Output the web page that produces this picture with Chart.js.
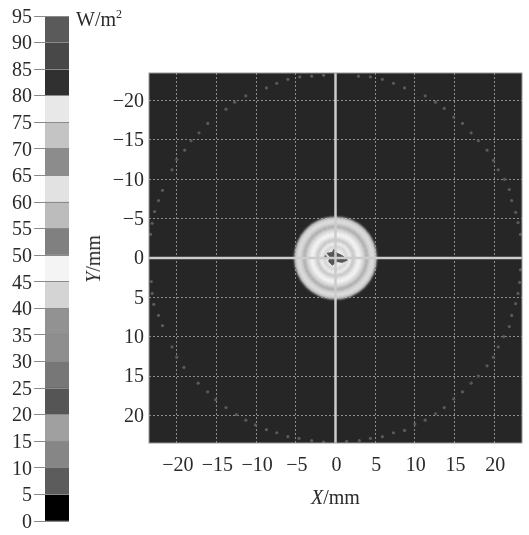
<!DOCTYPE html>
<html>
<head>
<meta charset="utf-8">
<script src="https://cdn.jsdelivr.net/npm/chart.js@4/dist/chart.umd.min.js"></script>
<style>
  html, body { margin: 0; padding: 0; background: #fff; }
  #page { position: relative; width: 529px; height: 535px; overflow: hidden; font-family: "Liberation Serif", serif; color: #2a2a2a; filter: blur(0.5px); }
  canvas { position: absolute; }
  .label { position: absolute; font-size: 20px; white-space: nowrap; line-height: 22px; }
  .label sup { font-size: 12px; line-height: 0; }
</style>
</head>
<body>
<div id="page">
  <canvas id="main" width="449" height="535" style="left:80px;top:0"></canvas>
  <canvas id="bar" width="80" height="535" style="left:0;top:0"></canvas>
  <div class="label" style="left:76px;top:8px">W/m<sup>2</sup></div>
  <div class="label" style="left:311px;top:486px"><i>X</i>/mm</div>
  <div class="label" style="left:93px;top:259px;transform:translate(-50%,-50%) rotate(-90deg)"><i>Y</i>/mm</div>
</div>
<script>
// colour bar bands, bottom to top, 5 W/m2 each
const bandValues = [5, 5, 5, 5, 5, 5, 5, 5, 5, 5, 5, 5, 5, 5, 5, 5, 5, 5, 5];
const bandColors = ["#000000", "#5c5c5c", "#868686", "#a0a0a0", "#555555", "#777777", "#8e8e8e", "#929292",
  "#d4d4d4", "#f4f4f4", "#808080", "#bcbcbc", "#e2e2e2", "#8c8c8c", "#c4c4c4", "#e8e8e8", "#303030", "#484848", "#5a5a5a"];

// faint ring of dots (mm)
const dotsX = [-23.3, -23.1, -22.8, -22.3, -21.8, -20.6, -20.0, -19.0, -18.2, -17.2, -16.1, -13.8, -12.7, -11.3, -8.7, -7.4, -6.0, -4.5, -3.0, -1.5,
  2.9, 4.4, 5.9, 7.3, 8.7, 11.3, 12.6, 13.7, 14.9, 16.0, 17.1, 18.0, 19.1, 19.9, 20.5, 21.3, 21.9, 22.2, 22.7, 23.0, 23.3,
  23.3, 23.2, 23.0, 22.7, 22.2, 21.9, 21.2, 20.5, 19.9, 19.1, 18.0, 17.1, 16.0, 14.9, 13.7, 12.6, 11.3, 10.0, 8.7, 7.3, 5.9, 4.4, 3.0, 1.4,
  -23.2, -23.1, -22.9, -22.3, -21.8, -20.6, -20.0, -19.1, -17.3, -16.1, -15.1, -13.8, -12.5, -11.3, -10.1, -8.7, -7.4, -6.0, -4.6, -3.0, -1.5];
const dotsY = [-3.0, -4.4, -5.9, -7.3, -8.6, -11.2, -12.5, -13.7, -14.9, -15.9, -17.1, -18.9, -19.8, -20.6, -21.6, -22.2, -22.7, -23.0, -23.1, -23.2,
  -23.1, -23.0, -22.7, -22.2, -21.6, -20.6, -19.8, -19.0, -17.9, -17.1, -15.9, -14.9, -13.7, -12.4, -11.2, -10.0, -8.7, -7.3, -5.8, -4.5, -3.0,
  1.5, 3.1, 4.5, 5.8, 7.3, 8.7, 10.0, 11.3, 12.6, 13.7, 15.0, 15.9, 17.0, 17.9, 19.0, 19.8, 20.6, 21.1, 21.9, 22.2, 22.7, 22.9, 23.2, 23.3,
  3.0, 4.5, 5.9, 7.3, 8.6, 11.3, 12.6, 13.9, 15.9, 17.0, 18.0, 19.0, 19.9, 20.6, 21.2, 21.8, 22.2, 22.7, 22.9, 23.2, 23.4];

// central disc: ring radius (mm) and shade, outside in
const ringRadii = [5.2, 4.95, 4.5, 4.15, 3.8, 3.3, 2.8, 2.45, 2.1, 1.6, 1.3];
const ringShades = ["#c0c0c0", "#dedede", "#d2d2d2", "#aaaaaa", "#d6d6d6", "#f4f4f4", "#e6e6e6", "#c0c0c0", "#eeeeee", "#d0d0d0", "#eaeaea"];

// dark patch in the middle
const patchX = [-0.2, 0.2, 0.85, 1.5, 0.85, 0.2, -0.4, -0.85, -0.7, -1.05, -0.4, -0.2];
const patchY = [-1.1, -0.6, -0.3, 0.25, 0.55, 0.45, 0.9, 0.45, -0.15, -0.6, -0.7, -1.1];
const spotX = [-1.25];
const spotY = [-0.15];

// axis range and cross lines
const axisMin = -23.5;
const axisMax = 23.5;
const crossX = [axisMin, axisMax];
const crossZero = [0, 0];

function zip(xs, ys) {
  return xs.map((x, i) => ({ x: x, y: ys[i] }));
}

const serif = { family: "'Liberation Serif', serif", size: 20 };

const plotBack = {
  id: "plotBack",
  beforeDraw(chart) {
    const a = chart.chartArea;
    chart.ctx.fillStyle = "#262626";
    chart.ctx.fillRect(a.left, a.top, a.width, a.height);
  },
  afterDraw(chart) {
    const a = chart.chartArea;
    chart.ctx.strokeStyle = "#989898";
    chart.ctx.lineWidth = 1;
    chart.ctx.strokeRect(a.left, a.top, a.width, a.height);
  },
};

const disc = {
  id: "disc",
  beforeDatasetsDraw(chart) {
    const ctx = chart.ctx;
    const cx = chart.scales.x.getPixelForValue(0);
    const cy = chart.scales.y.getPixelForValue(0);
    const unit = chart.scales.x.getPixelForValue(1) - cx;
    ctx.save();
    ctx.filter = "blur(1px)";
    ringRadii.forEach((r, i) => {
      ctx.beginPath();
      ctx.arc(cx, cy, r * unit, 0, Math.PI * 2);
      ctx.fillStyle = ringShades[i];
      ctx.fill();
      // rough speckled edge between rings
      if (i > 0) {
        ctx.setLineDash([3, 2]);
        ctx.lineWidth = 1.2;
        ctx.strokeStyle = ringShades[i - 1];
        ctx.stroke();
        ctx.setLineDash([]);
      }
    });
    ctx.restore();
  },
};

new Chart(document.getElementById("bar"), {
  type: "bar",
  data: {
    labels: [""],
    datasets: bandValues.map((v, i) => ({
      data: [v],
      backgroundColor: bandColors[i],
      barPercentage: 1,
      categoryPercentage: 1,
    })),
  },
  options: {
    responsive: false,
    animation: false,
    layout: { padding: { top: 16, bottom: 13, right: 11, left: 0 } },
    plugins: { legend: { display: false }, tooltip: { enabled: false } },
    scales: {
      x: { stacked: true, display: false },
      y: {
        stacked: true,
        min: 0,
        max: 95,
        afterFit(s) { s.width = 45; },
        border: { display: false },
        grid: { color: "#8a8a8a", z: 1, tickLength: 11 },
        ticks: { stepSize: 5, color: "#2a2a2a", font: serif, padding: 2, autoSkip: false, labelOffset: 1.5 },
      },
    },
  },
});

new Chart(document.getElementById("main"), {
  type: "scatter",
  data: {
    datasets: [
      { data: zip(crossX, crossZero), showLine: true, borderWidth: 2.5, borderColor: "#cccccc", pointRadius: 0 },
      { data: zip(crossZero, crossX), showLine: true, borderWidth: 2.5, borderColor: "#cccccc", pointRadius: 0 },
      { data: zip(patchX, patchY), showLine: true, fill: "shape", borderWidth: 1, borderColor: "#555555", backgroundColor: "#555555", pointRadius: 0 },
      { data: zip(spotX, spotY), pointRadius: 1.5, backgroundColor: "#666666", borderWidth: 0 },
      { data: zip(dotsX, dotsY), pointRadius: 1.6, backgroundColor: "#5a5a5a", borderWidth: 0 },
    ],
  },
  options: {
    responsive: false,
    animation: false,
    layout: { padding: { top: 73, bottom: 52, right: 7, left: 0 } },
    plugins: { legend: { display: false }, tooltip: { enabled: false } },
    scales: {
      x: {
        type: "linear",
        min: axisMin,
        max: axisMax,
        afterFit(s) { s.height = 40; },
        border: { display: false, dash: [2, 2] },
        grid: { color: "#8c8c8c", drawTicks: false },
        ticks: {
          stepSize: 5,
          includeBounds: false,
          maxRotation: 0,
          padding: 11,
          color: "#2a2a2a",
          font: serif,
          labelOffset: 1,
          callback: (v) => String(v).replace("-", "\u2212"),
        },
      },
      y: {
        type: "linear",
        reverse: true,
        min: axisMin,
        max: axisMax,
        afterFit(s) { s.width = 69; },
        border: { display: false, dash: [2, 2] },
        grid: { color: "#8c8c8c", drawTicks: false },
        ticks: {
          stepSize: 5,
          includeBounds: false,
          padding: 5,
          color: "#2a2a2a",
          font: serif,
          labelOffset: 1,
          callback: (v) => String(v).replace("-", "\u2212"),
        },
      },
    },
  },
  plugins: [plotBack, disc],
});
</script>
</body>
</html>
